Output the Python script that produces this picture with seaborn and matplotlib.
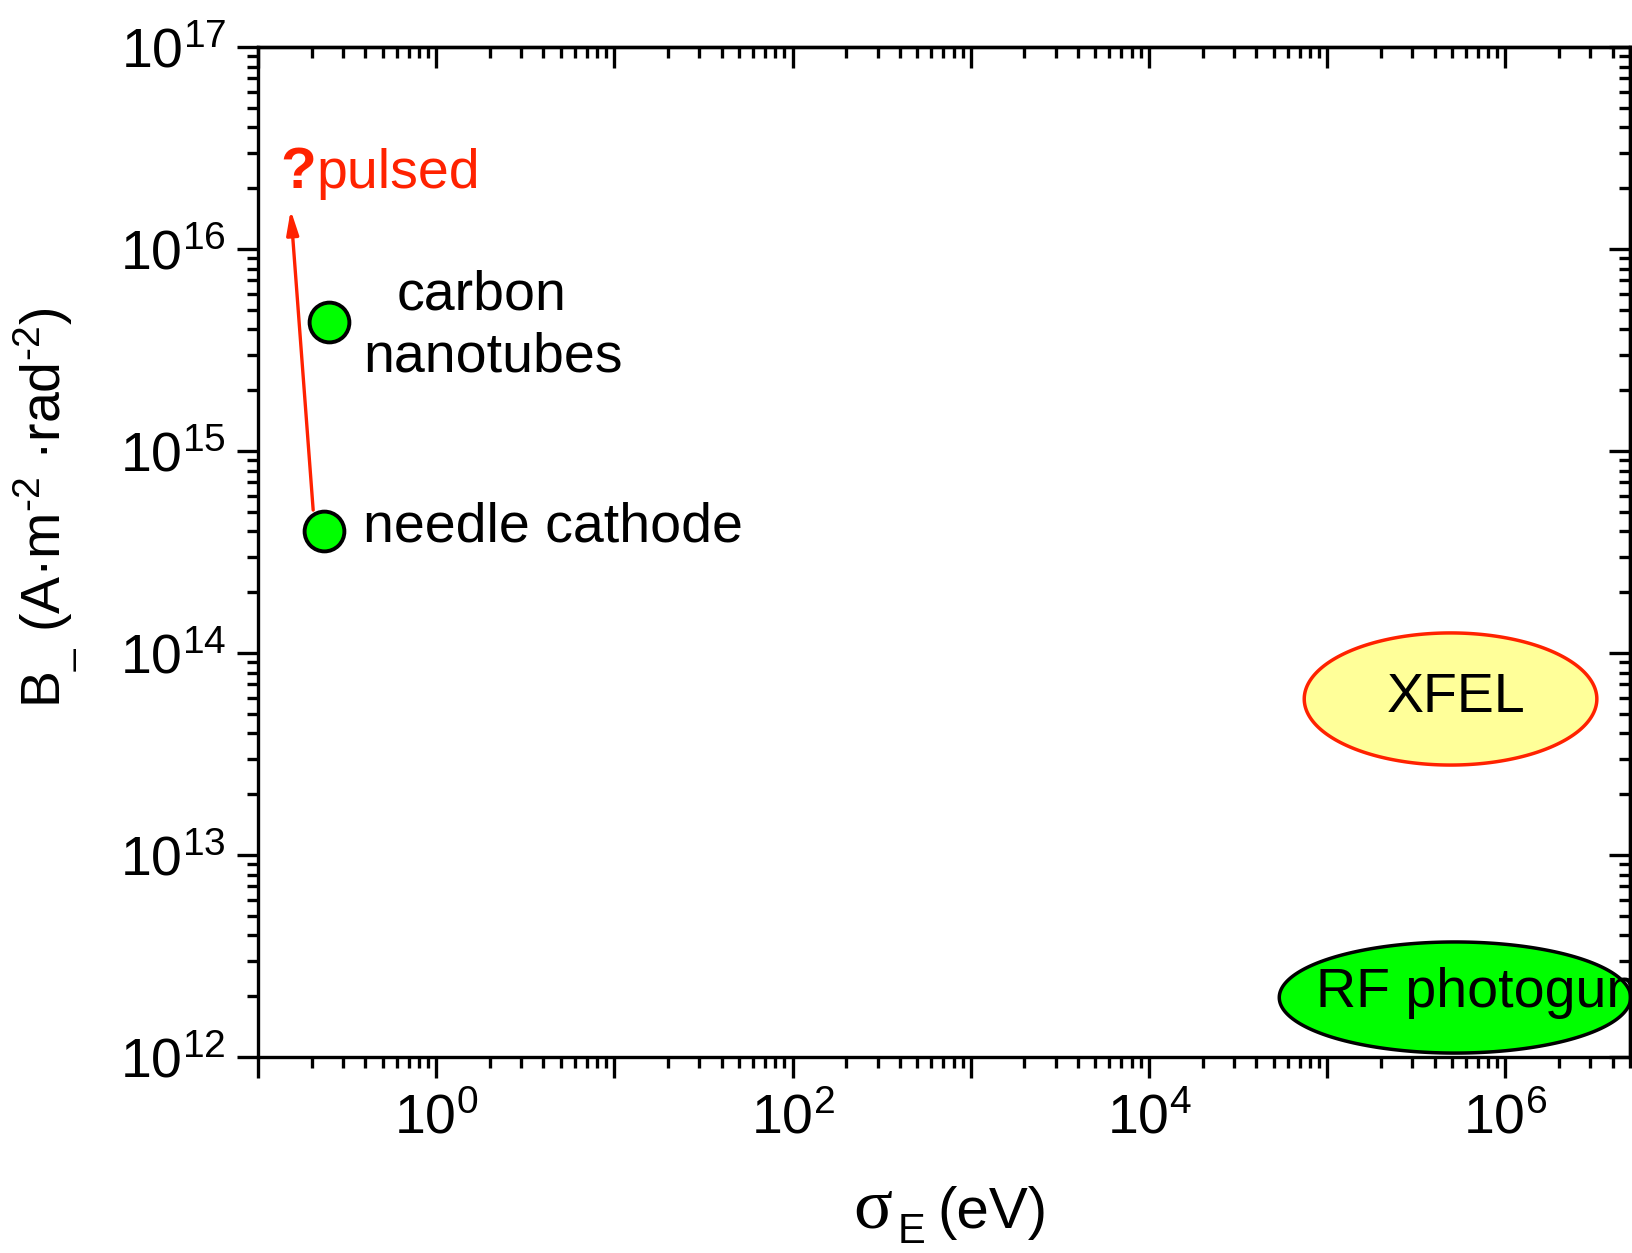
import numpy as np
import pandas as pd
import seaborn as sns
import matplotlib.pyplot as plt
from matplotlib.ticker import LogLocator, FuncFormatter, NullFormatter

# point sources: energy spread (eV) vs brightness
sources = ["needle cathode", "carbon nanotubes"]
sigma_e = [0.235, 0.249]
brightness = [4.03e14, 4.37e15]

# regions drawn as ellipses (centre, half axes in decades)
region_names = ["XFEL", "RF photogun"]
region_x = [4.92e5, 5.21e5]
region_y = [5.92e13, 1.97e12]
region_half_w = [0.821, 0.986]
region_half_h = [0.327, 0.275]
region_fill = ["#FFFF99", "#00FF00"]
region_edge = ["#FF2200", "black"]

# arrow for "pulsed"
arrow_tail = (0.204, 5.1e14)
arrow_tip = (0.1526, 1.56e16)

red = "#FF2200"

sns.set_style("ticks", {"axes.edgecolor": "black", "xtick.color": "black",
                        "ytick.color": "black", "text.color": "black",
                        "axes.labelcolor": "black"})
plt.rcParams["font.family"] = ["Liberation Sans", "DejaVu Sans"]
plt.rcParams["mathtext.fontset"] = "custom"
plt.rcParams["mathtext.rm"] = "Liberation Sans"
plt.rcParams["mathtext.it"] = "Liberation Sans"
plt.rcParams["mathtext.bf"] = "Liberation Sans:bold"

fig = plt.figure(figsize=(16.33, 12.53), dpi=100)
ax = fig.add_axes([258 / 1633, 1 - 1057 / 1253, 1372 / 1633, 1010 / 1253])
ax.set_xscale("log")
ax.set_yscale("log")
ax.set_xlim(0.1, 5e6)
ax.set_ylim(1e12, 1e17)

# ellipses in log space
t = np.linspace(0, 2 * np.pi, 300)
for i, name in enumerate(region_names):
    ex = 10 ** (np.log10(region_x[i]) + region_half_w[i] * np.cos(t))
    ey = 10 ** (np.log10(region_y[i]) + region_half_h[i] * np.sin(t))
    ax.fill(ex, ey, facecolor=region_fill[i], edgecolor=region_edge[i],
            lw=2.5, zorder=2)

ax.text(5.32e5, 5.12e13, "XFEL", fontsize=40, ha="center", va="baseline", zorder=5)
ax.text(8.6e4, 1.76e12, "RF photogun", fontsize=40, ha="left", va="baseline",
        zorder=5, clip_on=True)

ax.annotate("", xy=arrow_tip, xytext=arrow_tail,
            arrowprops=dict(arrowstyle="-|>,head_length=0.8,head_width=0.2",
                            color=red, lw=2.4, mutation_scale=18,
                            shrinkA=0, shrinkB=0), zorder=3)

df = pd.DataFrame({"source": sources, "sigma": sigma_e, "B": brightness})
sns.scatterplot(data=df, x="sigma", y="B", s=820, color="#00FF00",
                edgecolor="black", linewidth=2.8, ax=ax, zorder=4, legend=False)

ax.text(0.133, 2.0e16, "?", fontsize=42, color=red, fontweight="bold",
        ha="left", va="baseline")
ax.text(0.213, 2.0e16, "pulsed", fontsize=40, color=red, ha="left", va="baseline")
ax.text(0.599, 4.99e15, "carbon", fontsize=40, ha="left", va="baseline")
ax.text(0.388, 2.47e15, "nanotubes", fontsize=40, ha="left", va="baseline")
ax.text(0.388, 3.56e14, "needle cathode", fontsize=40, ha="left", va="baseline")

# ticks
def xfmt(v, pos):
    e = int(round(np.log10(v)))
    return r"$\mathregular{10^{%d}}$" % e if e % 2 == 0 else ""

def yfmt(v, pos):
    e = int(round(np.log10(v)))
    return r"$\mathregular{10^{%d}}$" % e

for axis in (ax.xaxis, ax.yaxis):
    axis.set_major_locator(LogLocator(base=10, numticks=30))
    axis.set_minor_locator(LogLocator(base=10, subs=np.arange(2, 10), numticks=30))
ax.xaxis.set_major_formatter(FuncFormatter(xfmt))
ax.yaxis.set_major_formatter(FuncFormatter(yfmt))
ax.xaxis.set_minor_formatter(NullFormatter())
ax.yaxis.set_minor_formatter(NullFormatter())

ax.tick_params(which="major", direction="out", length=15, width=2.4, labelsize=40)
ax.tick_params(which="minor", direction="out", length=8, width=2.4)
ax.tick_params(axis="x", which="major", pad=11)
ax.tick_params(axis="y", which="major", pad=8)
ax.tick_params(top=False, right=False)
for sp in ax.spines.values():
    sp.set_visible(True)
    sp.set_linewidth(2.4)

top = ax.secondary_xaxis("top")
right = ax.secondary_yaxis("right")
for sec, axis in ((top, top.xaxis), (right, right.yaxis)):
    axis.set_major_locator(LogLocator(base=10, numticks=30))
    axis.set_minor_locator(LogLocator(base=10, subs=np.arange(2, 10), numticks=30))
    axis.set_major_formatter(NullFormatter())
    axis.set_minor_formatter(NullFormatter())
    sec.tick_params(which="major", direction="in", length=15, width=2.4)
    sec.tick_params(which="minor", direction="in", length=8, width=2.4)
    for sp in sec.spines.values():
        sp.set_linewidth(2.4)

# x label: sigma, subscript E, unit
ax.text(0.4338, -0.1693, "σ", fontsize=52, family="Liberation Serif",
        transform=ax.transAxes, ha="left", va="baseline")
ax.text(0.4665, -0.1845, "E", fontsize=30, transform=ax.transAxes,
        ha="left", va="baseline")
ax.text(0.4949, -0.1693, "(eV)", fontsize=42, transform=ax.transAxes,
        ha="left", va="baseline")

ax.set_xlabel("")
ax.set_ylabel("B$_{\\_}$ (A·m$^{\\mathregular{‐2}}$ ·rad$^{\\mathregular{‐2}}$)", fontsize=40)
ax.yaxis.set_label_coords(-0.13, 0.544)

fig.savefig("out.png", dpi=100)
